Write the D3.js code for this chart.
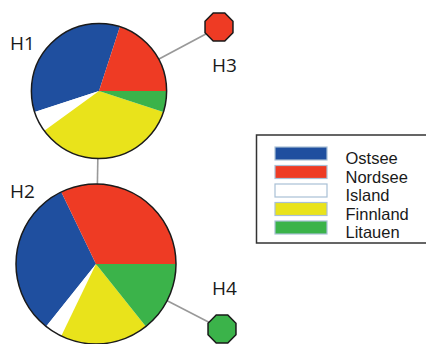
<!DOCTYPE html>
<html>
<head>
<meta charset="utf-8">
<script src="https://cdn.jsdelivr.net/npm/d3@7/dist/d3.min.js"></script>
<style>
  body { margin: 0; background: #fff; }
  text { font-family: "Open Sans", "Noto Sans", sans-serif; fill: #1a1a1a; }
  .item text { font-family: "Liberation Sans", Arial, sans-serif; }
</style>
</head>
<body>
<svg id="chart"></svg>
<script>
// haplotypes and how many of each came from which region
const haplotypes = ["H1", "H2", "H3", "H4"];
const regions = ["Ostsee", "Nordsee", "Island", "Finnland", "Litauen"];
const ostsee = [7, 9, 0, 0];
const nordsee = [4, 9, 1, 0];
const island = [1, 1, 0, 0];
const finnland = [7, 5, 0, 0];
const litauen = [1, 4, 0, 1];
const links = [["H1", "H2"], ["H1", "H3"], ["H2", "H4"]];

const WIDTH = 426;
const HEIGHT = 344;

// where each node sits and where its label goes
const layout = {
  H1: { x: 99, y: 91, lx: 10, ly: 50 },
  H2: { x: 96, y: 264, lx: 10, ly: 198 },
  H3: { x: 219, y: 27, lx: 212, ly: 72 },
  H4: { x: 222, y: 329, lx: 212, ly: 295 },
};

const colour = d3
  .scaleOrdinal()
  .domain(regions)
  .range(["#1f4f9f", "#ee3b24", "#ffffff", "#e9e31b", "#3bb34a"]);

// slice order going clockwise from 3 o'clock
const sliceOrder = ["Litauen", "Finnland", "Island", "Ostsee", "Nordsee"];

const byRegion = { Ostsee: ostsee, Nordsee: nordsee, Island: island, Finnland: finnland, Litauen: litauen };
const nodes = haplotypes.map((h, i) => {
  const parts = regions.map((r) => ({ region: r, n: byRegion[r][i] }));
  return { id: h, parts: parts, total: d3.sum(parts, (d) => d.n) };
});

const rScale = d3
  .scaleSqrt()
  .domain([0, d3.max(nodes, (d) => d.total)])
  .range([0, 80]);

const svg = d3.select("#chart").attr("width", WIDTH).attr("height", HEIGHT);

// links first so the nodes cover them
svg
  .append("g")
  .selectAll("line")
  .data(links)
  .enter()
  .append("line")
  .attr("x1", (d) => layout[d[0]].x)
  .attr("y1", (d) => layout[d[0]].y)
  .attr("x2", (d) => layout[d[1]].x)
  .attr("y2", (d) => layout[d[1]].y)
  .attr("stroke", "#999")
  .attr("stroke-width", 1.6);

const pie = d3
  .pie()
  .value((d) => d.n)
  .sort((a, b) => sliceOrder.indexOf(a.region) - sliceOrder.indexOf(b.region))
  .startAngle(Math.PI / 2)
  .endAngle(Math.PI / 2 + 2 * Math.PI);

const octagon = (r) =>
  d3.range(8).map((k) => {
    const a = Math.PI / 8 + (k * Math.PI) / 4;
    return [r * Math.cos(a), r * Math.sin(a)];
  });

const nodeG = svg
  .append("g")
  .selectAll("g")
  .data(nodes)
  .enter()
  .append("g")
  .attr("transform", (d) => "translate(" + layout[d.id].x + "," + layout[d.id].y + ")");

nodeG.each(function (d) {
  const g = d3.select(this);
  const r = rScale(d.total);
  if (d.total === 1) {
    const only = d.parts.find((p) => p.n > 0);
    g.append("polygon")
      .attr("points", octagon(r).map((p) => p.join(",")).join(" "))
      .attr("fill", colour(only.region))
      .attr("stroke", "#1a1a1a")
      .attr("stroke-width", 1.5);
    return;
  }
  const arc = d3.arc().innerRadius(0).outerRadius(r);
  g.selectAll("path")
    .data(pie(d.parts).filter((s) => s.data.n > 0))
    .enter()
    .append("path")
    .attr("d", arc)
    .attr("fill", (s) => colour(s.data.region));
  g.append("circle")
    .attr("r", r)
    .attr("fill", "none")
    .attr("stroke", "#1a1a1a")
    .attr("stroke-width", 1.5);
});

svg
  .append("g")
  .selectAll("text")
  .data(nodes)
  .enter()
  .append("text")
  .attr("x", (d) => layout[d.id].lx)
  .attr("y", (d) => layout[d.id].ly)
  .style("font-size", "19px")
  .text((d) => d.id);

// legend, runs off the right edge like the original
const legend = svg.append("g").attr("transform", "translate(256.5,135)");
legend
  .append("rect")
  .attr("width", 180)
  .attr("height", 108)
  .attr("fill", "#fff")
  .attr("stroke", "#333")
  .attr("stroke-width", 1.5);

const item = legend
  .selectAll("g.item")
  .data(regions)
  .enter()
  .append("g")
  .attr("class", "item")
  .attr("transform", (d, i) => "translate(0," + (29 + i * 18.5) + ")");

item
  .append("rect")
  .attr("x", 18.5)
  .attr("y", -17)
  .attr("width", 52)
  .attr("height", 13)
  .attr("fill", (d) => colour(d))
  .attr("stroke", "#a9c0d6")
  .attr("stroke-width", 1.2);

item
  .append("text")
  .attr("x", 89)
  .attr("y", 0)
  .style("font-size", "16.5px")
  .text((d) => d);
</script>
</body>
</html>
